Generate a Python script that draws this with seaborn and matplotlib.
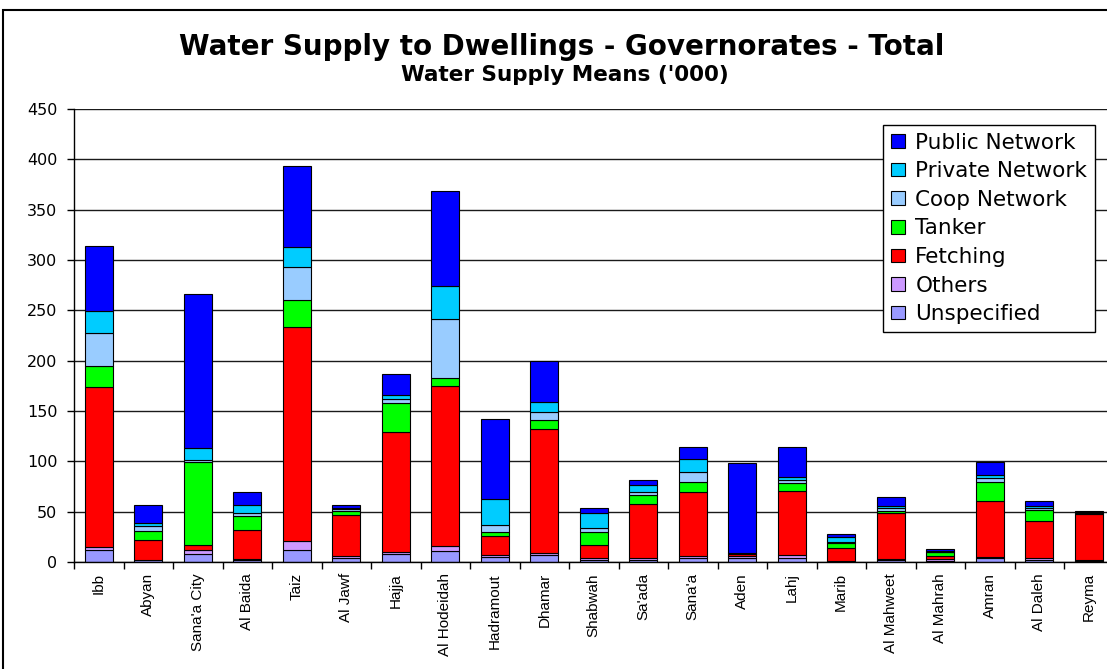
import matplotlib
matplotlib.use("Agg")
import matplotlib.pyplot as plt
from matplotlib.patches import Patch, Rectangle
from matplotlib.ticker import MultipleLocator, FixedLocator
import numpy as np
import pandas as pd
import seaborn as sns

# Governorates along the x axis
governorates = ["Ibb", "Abyan", "Sana'a City", "Al Baida", "Taiz", "Al Jawf", "Hajja",
                "Al Hodeidah", "Hadramout", "Dhamar", "Shabwah", "Sa'ada", "Sana'a",
                "Aden", "Lahj", "Marib", "Al Mahweet", "Al Mahrah", "Amran",
                "Al Daleh", "Reyma"]

# Dwellings by water supply means ('000)
public_network = [65, 18.6, 153.4, 12.6, 80.6, 2.5, 20.9, 93.7, 79.5, 40.5, 5.6,
                  5.3, 12.3, 89.0, 30, 2.4, 9.3, 2.5, 12.9, 4.7, 1.2]
private_network = [22, 2.2, 11.6, 8, 19.6, 1.5, 4.6, 32.9, 26.5, 9.6, 14.9,
                   6.6, 12.9, 0.3, 3, 5, 2, 0.3, 2.7, 2.2, 0.8]
coop_network = [32.5, 5, 2.7, 3, 32.6, 1.5, 4, 58.3, 6.3, 8.6, 4,
                3, 9.9, 0.2, 3, 1.2, 2.5, 0.2, 3.9, 2, 0.5]
tanker = [20.5, 9.3, 82.5, 14, 26.7, 4, 28.8, 8.3, 4.6, 8.3, 12.3,
          8.9, 10, 0.3, 8, 5, 2.5, 4, 19.3, 11, 0.8]
fetching = [159, 19.8, 4.5, 28.7, 212.4, 40.8, 118.6, 159, 18.2, 123.9, 13.2,
            54.3, 63.6, 2.3, 64, 13.3, 45.8, 3.4, 55.3, 37, 45.7]
others = [3.2, 0.5, 4, 1.6, 9.6, 2, 2.7, 5.3, 2, 1.3, 2,
          2.2, 1.7, 2.3, 2.3, 0.3, 1, 1.3, 1, 2, 1]
unspecified = [12, 1.5, 8, 1.7, 11.6, 4, 7.6, 10.6, 5.3, 7.3, 2,
               1.5, 4.3, 3.7, 4.3, 0.3, 1.5, 1.3, 4.3, 1.7, 1]

series_names = ["Public Network", "Private Network", "Coop Network", "Tanker",
                "Fetching", "Others", "Unspecified"]
series_values = [public_network, private_network, coop_network, tanker,
                 fetching, others, unspecified]
series_colors = ["#0000FF", "#00CCFF", "#99CCFF", "#00FF00",
                 "#FF0000", "#CC99FF", "#9999FF"]

records = []
for name, vals in zip(series_names, series_values):
    for gov, v in zip(governorates, vals):
        records.append({"Governorate": gov, "Means": name, "Value": v})
df = pd.DataFrame(records)
df["Governorate"] = pd.Categorical(df["Governorate"], categories=governorates, ordered=True)
df["pos"] = df["Governorate"].cat.codes

sns.set_theme(style="white")
plt.rcParams["font.family"] = ["DejaVu Sans"]
plt.rcParams["text.color"] = "black"
plt.rcParams["xtick.color"] = "black"
plt.rcParams["ytick.color"] = "black"
plt.rcParams["axes.labelcolor"] = "black"

W, H = 1107, 669
fig = plt.figure(figsize=(W / 100, H / 100), dpi=100)
fig.patch.set_facecolor("white")

left_px, right_px, top_px, bottom_px = 74, 1113.5, 109, 562
ax = fig.add_axes([left_px / W, 1 - bottom_px / H,
                   (right_px - left_px) / W, (bottom_px - top_px) / H])

palette = dict(zip(series_names, series_colors))
sns.histplot(data=df, x="pos", weights="Value", hue="Means", hue_order=series_names,
             multiple="stack", discrete=True, shrink=0.57, palette=palette,
             edgecolor="black", linewidth=0.8, alpha=1, legend=False, ax=ax)

ax.set_xlim(-0.5, len(governorates) - 0.5)
ax.set_ylim(0, 450)
ax.yaxis.set_major_locator(MultipleLocator(50))
ax.yaxis.grid(True, color="#1a1a1a", linewidth=1.0)
ax.set_axisbelow(True)
ax.set_xlabel("")
ax.set_ylabel("")

for side in ("top", "right"):
    ax.spines[side].set_visible(False)
for side in ("left", "bottom"):
    ax.spines[side].set_color("black")
    ax.spines[side].set_linewidth(1.0)

ax.set_xticks(np.arange(len(governorates)))
ax.set_xticklabels(governorates, rotation=90, va="top", ha="center",
                   fontsize=11, family="Liberation Sans", color="black")
ax.xaxis.set_minor_locator(FixedLocator(np.arange(-0.5, len(governorates), 1.0)))
ax.tick_params(axis="x", which="major", length=0, pad=8)
ax.tick_params(axis="x", which="minor", length=5, width=1, color="black", direction="out", bottom=True)
ax.tick_params(axis="y", which="major", length=5, width=1, color="black", direction="out",
               left=True, labelsize=11.5, pad=7, labelcolor="black")

handles = [Patch(facecolor=c, edgecolor="black", linewidth=0.8, label=n)
           for n, c in zip(series_names, series_colors)]
leg = fig.legend(handles=handles, loc="upper left",
                 bbox_to_anchor=(883 / W, 1 - 125 / H), bbox_transform=fig.transFigure,
                 fontsize=15.5, frameon=True, fancybox=False, shadow=False,
                 handlelength=0.65, handleheight=0.6, handletextpad=0.5,
                 labelspacing=0.4, borderpad=0.35, borderaxespad=0, labelcolor="black")
leg.get_frame().set_edgecolor("black")
leg.get_frame().set_linewidth(1.0)
leg.get_frame().set_alpha(1)

fig.text(562 / W, 1 - 47 / H, "Water Supply to Dwellings - Governorates - Total",
         ha="center", va="center", fontsize=20, fontweight="bold", color="black")
fig.text(565 / W, 1 - 75 / H, "Water Supply Means ('000)",
         ha="center", va="center", fontsize=15.5, fontweight="bold", color="black")

# chart-area frame
fig.add_artist(Rectangle((3 / W, -0.1), 1.2, (1 - 10 / H) + 0.1, transform=fig.transFigure,
                         fill=False, edgecolor="black", linewidth=1.5))

fig.savefig("out.png", dpi=100)
